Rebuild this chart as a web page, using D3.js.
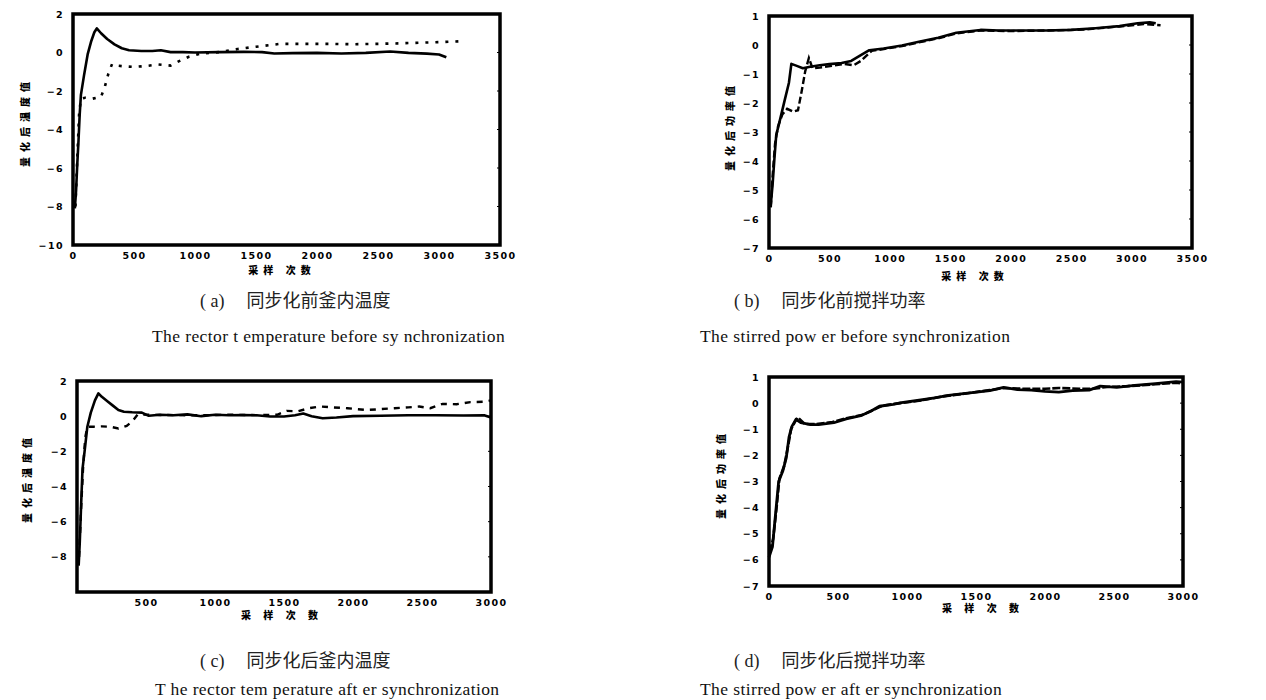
<!DOCTYPE html>
<head>
    <meta charset="utf-8">
    <title>同步化前后釜内温度与搅拌功率</title>
    <style>
        body { margin: 0; background: #fff; }
        .tick text { font-family: "DejaVu Sans", sans-serif; font-weight: bold; font-size: 9.5px; letter-spacing: 1.4px; fill: #000; }
        .ytitle, .xtitle { font-family: "Noto Sans CJK SC", sans-serif; font-weight: 900; font-size: 10px; fill: #000; }
        .cap-cn { font-family: "Noto Sans CJK SC", sans-serif; font-size: 18px; fill: #222; }
        .cap-lab { font-family: "Liberation Serif", serif; font-size: 18px; fill: #222; }
        .cap-en { font-family: "Liberation Serif", serif; font-size: 17.5px; letter-spacing: 0.4px; fill: #111; }
    </style>
</head>
<body>
<svg width="1266" height="700"></svg>

<script src="https://d3js.org/d3.v7.min.js"></script>
<script>
    // ---- data: [sampling count, quantised value] ----
    // (a) reactor temperature before synchronization
    var aSolid = [[15,-8.1],[25,-7.2],[35,-5.8],[45,-4.6],[55,-3.2],[65,-2.2],[90,-1.2],[120,-0.1],
        [150,0.6],[175,1.05],[195,1.25],[230,1.0],[280,0.7],[340,0.42],[400,0.22],[460,0.12],
        [560,0.08],[650,0.08],[720,0.12],[800,0.02],[900,0.02],[1000,0.0],[1200,0.02],[1400,0.03],
        [1550,0.02],[1650,-0.05],[1800,-0.03],[2000,-0.02],[2200,-0.05],[2400,-0.02],[2600,0.05],
        [2750,-0.02],[2900,-0.06],[3000,-0.1],[3060,-0.25]];
    var aDash = [[20,-8.0],[35,-5.5],[50,-3.2],[65,-2.4],[100,-2.35],[160,-2.4],[230,-2.3],[260,-1.8],
        [290,-1.1],[320,-0.6],[360,-0.68],[420,-0.72],[500,-0.75],[600,-0.7],[700,-0.62],[800,-0.68],
        [870,-0.45],[950,-0.22],[1050,-0.05],[1200,0.02],[1350,0.18],[1500,0.3],[1700,0.45],[1900,0.45],
        [2100,0.45],[2300,0.43],[2500,0.45],[2700,0.48],[2900,0.52],[3050,0.55],[3160,0.58]];

    // (b) stirred power before synchronization
    var bSolid = [[15,-5.5],[30,-4.8],[45,-3.9],[60,-3.1],[90,-2.6],[130,-1.9],[165,-1.3],[185,-0.65],
        [230,-0.72],[280,-0.8],[340,-0.75],[420,-0.7],[500,-0.66],[600,-0.62],[680,-0.55],[760,-0.35],
        [830,-0.18],[950,-0.12],[1100,-0.02],[1250,0.12],[1400,0.25],[1550,0.42],[1750,0.52],[1900,0.5],
        [2100,0.5],[2300,0.5],[2500,0.52],[2700,0.58],[2900,0.65],[3050,0.75],[3150,0.78],[3200,0.75]];
    var bDash = [[15,-5.6],[30,-4.5],[50,-3.4],[75,-2.8],[110,-2.4],[150,-2.2],[200,-2.3],[240,-2.25],
        [270,-1.6],[300,-0.9],[330,-0.45],[360,-0.8],[420,-0.78],[520,-0.72],[620,-0.65],[700,-0.7],
        [760,-0.55],[850,-0.2],[950,-0.14],[1100,-0.04],[1250,0.1],[1400,0.23],[1550,0.4],[1750,0.5],
        [2000,0.48],[2300,0.5],[2600,0.53],[2900,0.64],[3100,0.72],[3240,0.68]];

    // (c) reactor temperature after synchronization
    var cSolid = [[12,-8.5],[20,-7.2],[30,-5.0],[40,-3.0],[55,-2.0],[75,-0.6],[100,0.2],[130,0.9],
        [155,1.3],[180,1.1],[220,0.85],[260,0.6],[300,0.35],[340,0.25],[400,0.22],[470,0.2],[520,0.02],
        [600,0.08],[700,0.05],[800,0.1],[900,0.0],[1000,0.08],[1100,0.05],[1200,0.06],[1300,0.05],
        [1400,-0.02],[1500,-0.02],[1580,0.05],[1640,0.15],[1700,0.0],[1780,-0.12],[1880,-0.08],
        [2000,0.0],[2200,0.02],[2400,0.05],[2600,0.05],[2800,0.04],[2950,0.05],[3000,-0.08]];
    var cDash = [[15,-8.0],[30,-5.2],[45,-2.8],[60,-1.2],[75,-0.6],[120,-0.6],[180,-0.58],[240,-0.6],
        [300,-0.7],[360,-0.55],[400,-0.3],[440,0.1],[520,0.08],[700,0.06],[900,0.05],[1100,0.08],
        [1300,0.06],[1450,0.08],[1520,0.3],[1600,0.28],[1680,0.45],[1760,0.55],[1850,0.5],[1960,0.45],
        [2100,0.35],[2200,0.4],[2300,0.45],[2400,0.5],[2480,0.55],[2560,0.45],[2650,0.7],[2750,0.68],
        [2850,0.8],[2950,0.82],[3000,0.9]];

    // (d) stirred power after synchronization
    var dSolid = [[0,-5.9],[25,-5.5],[50,-4.1],[70,-3.0],[100,-2.6],[125,-2.1],[145,-1.3],[165,-0.9],
        [195,-0.62],[230,-0.75],[300,-0.82],[360,-0.82],[470,-0.75],[560,-0.6],[665,-0.48],[740,-0.3],
        [800,-0.12],[900,-0.05],[960,0.02],[1100,0.12],[1200,0.2],[1300,0.3],[1440,0.38],[1600,0.48],
        [1700,0.6],[1800,0.52],[1900,0.5],[2000,0.45],[2100,0.42],[2200,0.48],[2320,0.5],[2400,0.65],
        [2520,0.6],[2650,0.68],[2800,0.75],[2950,0.82],[3000,0.8]];
    var dDash = [[5,-5.7],[30,-5.2],[55,-4.0],[75,-2.9],[110,-2.4],[140,-1.6],[160,-1.0],[190,-0.7],
        [210,-0.55],[260,-0.8],[340,-0.8],[460,-0.72],[560,-0.58],[680,-0.45],[760,-0.25],[820,-0.1],
        [950,0.0],[1100,0.1],[1250,0.25],[1440,0.38],[1600,0.5],[1700,0.58],[1850,0.55],[2000,0.55],
        [2100,0.58],[2250,0.55],[2350,0.55],[2450,0.62],[2600,0.65],[2800,0.72],[2950,0.78],[3000,0.75]];

    // tick values
    var xTicksWide = [0, 500, 1000, 1500, 2000, 2500, 3000, 3500];
    var xTicksA = xTicksWide, xTicksB = xTicksWide;
    var xTicksC = [500, 1000, 1500, 2000, 2500, 3000];
    var xTicksD = [0, 500, 1000, 1500, 2000, 2500, 3000];
    var yTicksTemp = [2, 0, -2, -4, -6, -8, -10];
    var yTicksTempC = [2, 0, -2, -4, -6, -8];
    var yTicksPower = [1, 0, -1, -2, -3, -4, -5, -6, -7];

    var svg = d3.select("svg");
    var fmt = d3.format("d");

    function drawPanel(p) {
        var g = svg.append("g");
        var x = d3.scaleLinear().domain(p.xDomain).range([p.left, p.right]);
        var y = d3.scaleLinear().domain(p.yDomain).range([p.top, p.bottom]);

        // axes (labels only, the frame is drawn as a box)
        g.append("g")
            .attr("transform", "translate(0," + p.bottom + ")")
            .call(d3.axisBottom(x).tickValues(p.xTicks).tickFormat(fmt).tickSize(0).tickPadding(7))
            .select(".domain").remove();
        g.append("g")
            .attr("transform", "translate(" + p.left + ",0)")
            .call(d3.axisLeft(y).tickValues(p.yTicks).tickFormat(fmt).tickSize(0).tickPadding(9))
            .select(".domain").remove();

        // little inner ticks on the right edge
        g.selectAll("line.rt")
            .data(p.yTicks)
            .enter().append("line")
            .attr("x1", p.right - 3).attr("x2", p.right)
            .attr("y1", function(d) { return y(d); })
            .attr("y2", function(d) { return y(d); })
            .attr("stroke", "#000").attr("stroke-width", 1);

        var line = d3.line()
            .x(function(d) { return x(d[0]); })
            .y(function(d) { return y(d[1]); });

        g.append("path")
            .datum(p.dash)
            .attr("fill", "none")
            .attr("stroke", "#000")
            .attr("stroke-width", p.dashWidth)
            .attr("stroke-dasharray", p.dashArray)
            .attr("d", line);
        g.append("path")
            .datum(p.solid)
            .attr("fill", "none")
            .attr("stroke", "#000")
            .attr("stroke-width", p.solidWidth)
            .attr("stroke-linejoin", "round")
            .attr("d", line);

        g.append("rect")
            .attr("x", p.left).attr("y", p.top)
            .attr("width", p.right - p.left).attr("height", p.bottom - p.top)
            .attr("fill", "none").attr("stroke", "#000").attr("stroke-width", 3.5);

        // axis titles
        g.append("text")
            .attr("class", "xtitle")
            .attr("x", p.xTitle[0]).attr("y", p.xTitle[1])
            .attr("text-anchor", "middle")
            .attr("letter-spacing", "5px")
            .text(p.xLabel);
        g.append("text")
            .attr("class", "ytitle")
            .attr("transform", "translate(" + p.yTitle[0] + "," + p.yTitle[1] + ") rotate(-90)")
            .attr("text-anchor", "middle")
            .attr("letter-spacing", "5px")
            .text(p.yLabel);

        // captions
        var c1 = g.append("text").attr("x", p.cap1[0]).attr("y", p.cap1[1]);
        c1.append("tspan").attr("class", "cap-lab").text(p.tag);
        c1.append("tspan").attr("class", "cap-cn").attr("dx", 22).text(p.capCn);
        g.append("text")
            .attr("class", "cap-en")
            .attr("x", p.cap2[0]).attr("y", p.cap2[1])
            .text(p.capEn);
    }

    drawPanel({
        left: 73, right: 500, top: 14, bottom: 245,
        xDomain: [0, 3500], yDomain: [2, -10], xTicks: xTicksA, yTicks: yTicksTemp,
        solid: aSolid, dash: aDash, solidWidth: 2.6, dashWidth: 2.6, dashArray: "3,7",
        xLabel: "采样 次数", xTitle: [282, 274], yLabel: "量化后温度值", yTitle: [29, 122],
        tag: "( a)", capCn: "同步化前釜内温度", cap1: [200, 307],
        capEn: "The rector t emperature before sy nchronization", cap2: [152, 342]
    });
    drawPanel({
        left: 769, right: 1192, top: 16, bottom: 248,
        xDomain: [0, 3500], yDomain: [1, -7], xTicks: xTicksB, yTicks: yTicksPower,
        solid: bSolid, dash: bDash, solidWidth: 2.6, dashWidth: 2.4, dashArray: "7,3",
        xLabel: "采样 次数", xTitle: [975, 280], yLabel: "量化后功率值", yTitle: [734, 126],
        tag: "( b)", capCn: "同步化前搅拌功率", cap1: [734, 307],
        capEn: "The stirred pow er before synchronization", cap2: [700, 342]
    });
    drawPanel({
        left: 77, right: 491, top: 381, bottom: 592,
        xDomain: [0, 3000], yDomain: [2, -10], xTicks: xTicksC, yTicks: yTicksTempC,
        solid: cSolid, dash: cDash, solidWidth: 2.6, dashWidth: 2.4, dashArray: "6,6",
        xLabel: "采 样 次 数", xTitle: [282, 619], yLabel: "量化后温度值", yTitle: [31, 478],
        tag: "( c)", capCn: "同步化后釜内温度", cap1: [200, 667],
        capEn: "T he rector tem perature aft er synchronization", cap2: [155, 695]
    });
    drawPanel({
        left: 769, right: 1183, top: 377, bottom: 586,
        xDomain: [0, 3000], yDomain: [1, -7], xTicks: xTicksD, yTicks: yTicksPower,
        solid: dSolid, dash: dDash, solidWidth: 2.8, dashWidth: 2.6, dashArray: "8,2",
        xLabel: "采 样 次 数", xTitle: [983, 612], yLabel: "量化后功率值", yTitle: [725, 474],
        tag: "( d)", capCn: "同步化后搅拌功率", cap1: [734, 667],
        capEn: "The stirred pow er aft er synchronization", cap2: [700, 695]
    });
</script>
</body>
